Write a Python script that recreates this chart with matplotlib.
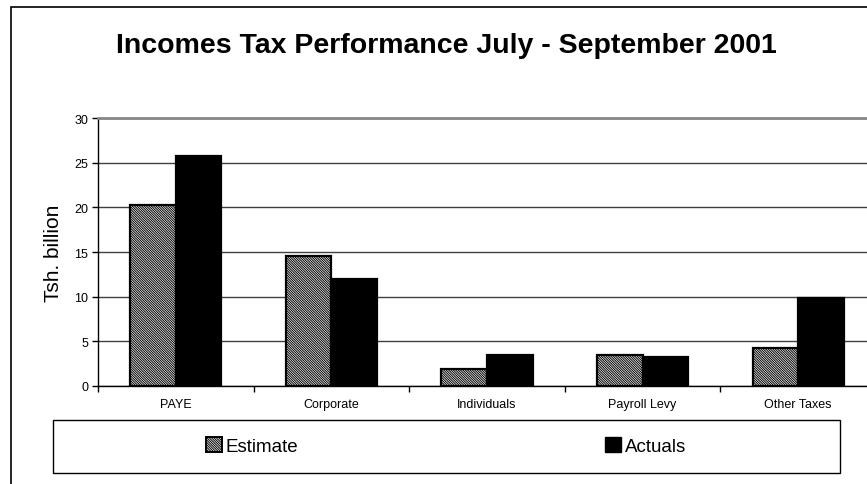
import numpy as np
import matplotlib
matplotlib.use("Agg")
import matplotlib.pyplot as plt
from matplotlib.patches import Rectangle, Patch
from matplotlib.ticker import FixedLocator, MultipleLocator

# Income tax collections, Tsh. billion
categories = ["PAYE", "Corporate", "Individuals", "Payroll Levy", "Other Taxes"]
estimate = [20.3, 14.6, 1.9, 3.5, 4.2]
actuals = [25.7, 12.0, 3.5, 3.2, 9.8]

plt.rcParams['font.family'] = ['Liberation Sans', 'DejaVu Sans']
plt.rcParams['hatch.linewidth'] = 0.7

W, H = 867, 485
my_dpi = 100
fig = plt.figure(figsize=(W/my_dpi, H/my_dpi), dpi=my_dpi, facecolor='w')

# plot area runs past the right edge of the canvas
ax = fig.add_axes([98/W, (H-387)/H, (876-98)/W, (387-119)/H])

dense_hatch = '\\' * 14
x = np.arange(len(categories))
bw = 0.293
ax.bar(x - bw/2, estimate, bw, facecolor='white', edgecolor='black',
       hatch=dense_hatch, linewidth=1.6, zorder=3)
ax.bar(x + bw/2, actuals, bw, facecolor='black', edgecolor='black',
       linewidth=1.6, zorder=3)

ax.set_xlim(-0.5, len(categories) - 0.5)
ax.set_ylim(0, 30)
ax.yaxis.set_major_locator(MultipleLocator(5))
ax.yaxis.grid(True, color='#404040', linewidth=1.0, zorder=0)
ax.set_axisbelow(True)

ax.set_xticks(x)
ax.set_xticklabels(categories, fontsize=9)
ax.xaxis.set_minor_locator(FixedLocator(np.arange(-0.5, len(categories), 1.0)))
ax.tick_params(axis='x', which='major', length=0, pad=9)
ax.tick_params(axis='x', which='minor', length=4, width=1, direction='out')
ax.tick_params(axis='y', length=4, width=1, labelsize=9, pad=3)

for s in ['left', 'bottom']:
    ax.spines[s].set_color('black')
    ax.spines[s].set_linewidth(1.0)
ax.spines['top'].set_color('#888888')
ax.spines['top'].set_linewidth(2.0)
ax.spines['right'].set_visible(False)

ax.set_ylabel('Tsh. billion', fontsize=15, labelpad=8)

fig.text(446/W, (H-46)/H, 'Incomes Tax Performance July - September 2001',
         ha='center', va='center', fontsize=20.5, fontweight='bold')

# outer chart frame (continues beyond right/bottom edge)
fig.patches.append(Rectangle((11/W, -0.1), 1.2, (H-8)/H + 0.1, transform=fig.transFigure,
                             fill=False, edgecolor='black', linewidth=1.2, clip_on=False))

# legend box
fig.patches.append(Rectangle((53/W, (H-474)/H), (840-53)/W, (474-421)/H,
                             transform=fig.transFigure, fill=False,
                             edgecolor='black', linewidth=1.0))
handles = [Patch(facecolor='white', edgecolor='black', hatch=dense_hatch, linewidth=1.4),
           Patch(facecolor='black', edgecolor='black')]
fig.legend(handles, ['Estimate', 'Actuals'], loc='center', ncol=2,
           bbox_to_anchor=(446/W, (H-447)/H), frameon=False, fontsize=13.5,
           handlelength=0.85, handleheight=0.85, handletextpad=0.2,
           columnspacing=16.4)

fig.savefig('out.png', dpi=my_dpi)
